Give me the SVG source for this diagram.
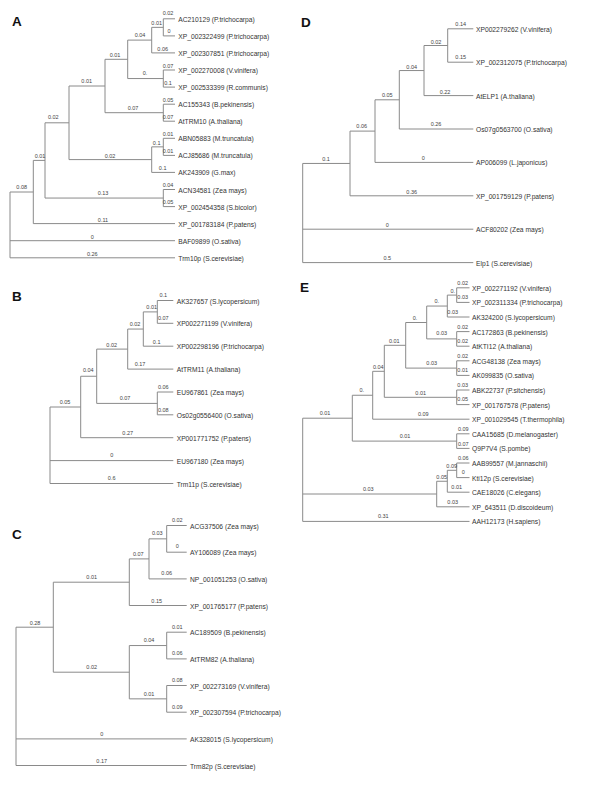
<svg xmlns="http://www.w3.org/2000/svg" width="600" height="788" viewBox="0 0 600 788">
<style>
.edge{fill:none;stroke:#8a8a8a;stroke-width:1}
.leaf{font-family:"Liberation Sans",Arial,sans-serif;font-size:6.7px;fill:#333}
.len{font-family:"Liberation Sans",Arial,sans-serif;font-size:5.5px;fill:#444;text-anchor:middle}
.panel{font-family:"Liberation Sans",Arial,sans-serif;font-size:13.5px;font-weight:bold;fill:#111}
</style>
<rect width="600" height="788" fill="#fff"/>

<!-- Panel A -->
<g id="panelA">
<text class="panel" x="12" y="26">A</text>
<g id="A-connectors">
<path class="edge" d="M163.3 18.8H175M163.3 35.9H175M163.3 18.8V35.9M151.7 27.35H163.3M151.7 52.9H175M151.7 27.35V52.9M163.3 70H175M163.3 87.1H175M163.3 70V87.1M127.7 40.1H151.7M127.7 78.55H163.3M127.7 40.1V78.55M163.3 104.2H175M163.3 121.2H175M163.3 104.2V121.2M105 59.3H127.7M105 112.7H163.3M105 59.3V112.7M163.3 138.3H175M163.3 155.4H175M163.3 138.3V155.4M151.7 146.85H163.3M151.7 172.4H175M151.7 146.85V172.4M69 86H105M69 159.6H151.7M69 86V159.6M163.3 189.5H175M163.3 206.6H175M163.3 189.5V206.6M45 122.8H69M45 198.05H163.3M45 122.8V198.05M33.3 160.4H45M33.3 223.6H175M33.3 160.4V223.6M10 192H33.3M10 240.7H175M10 257.8H175M10 192V257.8"/>
<g class="lengths">
<text class="len" x="168" y="15.3">0.02</text>
<text class="len" x="169" y="32.7">0</text>
<text class="len" x="156.7" y="24.7">0.01</text>
<text class="len" x="162.7" y="50.7">0.06</text>
<text class="len" x="140" y="37">0.04</text>
<text class="len" x="145" y="74.7">0.</text>
<text class="len" x="168" y="67.7">0.07</text>
<text class="len" x="168" y="84.7">0.1</text>
<text class="len" x="115" y="57">0.01</text>
<text class="len" x="133" y="109.7">0.07</text>
<text class="len" x="168" y="102">0.05</text>
<text class="len" x="168" y="119">0.07</text>
<text class="len" x="86.7" y="83">0.01</text>
<text class="len" x="53.3" y="119.3">0.02</text>
<text class="len" x="168" y="135.7">0.01</text>
<text class="len" x="168" y="152.7">0.01</text>
<text class="len" x="156.7" y="144.7">0.1</text>
<text class="len" x="110" y="157.7">0.02</text>
<text class="len" x="162.7" y="170.3">0.1</text>
<text class="len" x="103" y="195.3">0.13</text>
<text class="len" x="168" y="187">0.04</text>
<text class="len" x="168" y="204">0.05</text>
<text class="len" x="40" y="157.7">0.01</text>
<text class="len" x="103" y="222">0.11</text>
<text class="len" x="21.7" y="189.3">0.08</text>
<text class="len" x="92.3" y="238.7">0</text>
<text class="len" x="92.3" y="256">0.26</text>
</g>
</g>
<g id="A-AC210129"><text class="leaf" x="178.3" y="21.8">AC210129 (P.trichocarpa)</text></g>
<g id="A-XP_002322499"><text class="leaf" x="178.3" y="38.9">XP_002322499 (P.trichocarpa)</text></g>
<g id="A-XP_002307851"><text class="leaf" x="178.3" y="55.9">XP_002307851 (P.trichocarpa)</text></g>
<g id="A-XP_002270008"><text class="leaf" x="178.3" y="73">XP_002270008 (V.vinifera)</text></g>
<g id="A-XP_002533399"><text class="leaf" x="178.3" y="90.1">XP_002533399 (R.communis)</text></g>
<g id="A-AC155343"><text class="leaf" x="178.3" y="107.2">AC155343 (B.pekinensis)</text></g>
<g id="A-AtTRM10"><text class="leaf" x="178.3" y="124.2">AtTRM10 (A.thaliana)</text></g>
<g id="A-ABN05883"><text class="leaf" x="178.3" y="141.3">ABN05883 (M.truncatula)</text></g>
<g id="A-ACJ85686"><text class="leaf" x="178.3" y="158.4">ACJ85686 (M.truncatula)</text></g>
<g id="A-AK243909"><text class="leaf" x="178.3" y="175.4">AK243909 (G.max)</text></g>
<g id="A-ACN34581"><text class="leaf" x="178.3" y="192.5">ACN34581 (Zea mays)</text></g>
<g id="A-XP_002454358"><text class="leaf" x="178.3" y="209.6">XP_002454358 (S.bicolor)</text></g>
<g id="A-XP_001783184"><text class="leaf" x="178.3" y="226.6">XP_001783184 (P.patens)</text></g>
<g id="A-BAF09899"><text class="leaf" x="178.3" y="243.7">BAF09899 (O.sativa)</text></g>
<g id="A-Trm10p"><text class="leaf" x="178.3" y="260.8">Trm10p (S.cerevisiae)</text></g>
</g>

<!-- Panel B -->
<g id="panelB">
<text class="panel" x="12" y="301">B</text>
<g id="B-connectors">
<path class="edge" d="M157.3 300.5H173.3M157.3 323.3H173.3M157.3 300.5V323.3M143.3 311.9H157.3M143.3 346.2H173.3M143.3 311.9V346.2M127.7 329.05H143.3M127.7 369.1H173.3M127.7 329.05V369.1M157.3 392H173.3M157.3 414.8H173.3M157.3 392V414.8M96.7 349.1H127.7M96.7 403.4H157.3M96.7 349.1V403.4M80.7 376.25H96.7M80.7 437.7H173.3M80.7 376.25V437.7M50 407H80.7M50 460.6H173.3M50 483.5H173.3M50 407V483.5"/>
<g class="lengths">
<text class="len" x="163.3" y="297">0.1</text>
<text class="len" x="163.3" y="320.3">0.07</text>
<text class="len" x="151.7" y="308.7">0.01</text>
<text class="len" x="156.7" y="343.7">0.1</text>
<text class="len" x="135" y="326.3">0.02</text>
<text class="len" x="140" y="366.3">0.17</text>
<text class="len" x="111.7" y="347">0.02</text>
<text class="len" x="163.3" y="388.7">0.06</text>
<text class="len" x="163.3" y="412">0.08</text>
<text class="len" x="125" y="399.7">0.07</text>
<text class="len" x="88.3" y="372">0.04</text>
<text class="len" x="127.7" y="434.7">0.27</text>
<text class="len" x="65" y="403.7">0.05</text>
<text class="len" x="111.7" y="457">0</text>
<text class="len" x="111.7" y="480.3">0.6</text>
</g>
</g>
<g id="B-AK327657"><text class="leaf" x="176.7" y="303.5">AK327657 (S.lycopersicum)</text></g>
<g id="B-XP002271199"><text class="leaf" x="176.7" y="326.3">XP002271199 (V.vinifera)</text></g>
<g id="B-XP002298196"><text class="leaf" x="176.7" y="349.2">XP002298196 (P.trichocarpa)</text></g>
<g id="B-AtTRM11"><text class="leaf" x="176.7" y="372.1">AtTRM11 (A.thaliana)</text></g>
<g id="B-EU967861"><text class="leaf" x="176.7" y="395">EU967861 (Zea mays)</text></g>
<g id="B-Os02g0556400"><text class="leaf" x="176.7" y="417.8">Os02g0556400 (O.sativa)</text></g>
<g id="B-XP001771752"><text class="leaf" x="176.7" y="440.7">XP001771752 (P.patens)</text></g>
<g id="B-EU967180"><text class="leaf" x="176.7" y="463.6">EU967180 (Zea mays)</text></g>
<g id="B-Trm11p"><text class="leaf" x="176.7" y="486.5">Trm11p (S.cerevisiae)</text></g>
</g>

<!-- Panel C -->
<g id="panelC">
<text class="panel" x="12" y="539">C</text>
<g id="C-connectors">
<path class="edge" d="M166.7 525.5H186.7M166.7 552.2H186.7M166.7 525.5V552.2M149 538.85H166.7M149 578.9H186.7M149 538.85V578.9M129.3 558.9H149M129.3 605.5H186.7M129.3 558.9V605.5M166.7 632.2H186.7M166.7 658.9H186.7M166.7 632.2V658.9M166.7 685.5H186.7M166.7 712.2H186.7M166.7 685.5V712.2M129.3 645.55H166.7M129.3 698.85H166.7M129.3 645.55V698.85M53.3 582.2H129.3M53.3 672.2H129.3M53.3 582.2V672.2M16 627.2H53.3M16 738.9H186.7M16 765.5H186.7M16 627.2V765.5"/>
<g class="lengths">
<text class="len" x="177.3" y="522">0.02</text>
<text class="len" x="177.3" y="548">0</text>
<text class="len" x="157.3" y="535.3">0.03</text>
<text class="len" x="166.7" y="575.3">0.06</text>
<text class="len" x="138.3" y="556">0.07</text>
<text class="len" x="156.7" y="602.7">0.15</text>
<text class="len" x="91.7" y="578.7">0.01</text>
<text class="len" x="177.3" y="629">0.01</text>
<text class="len" x="177.3" y="655">0.06</text>
<text class="len" x="149" y="642">0.04</text>
<text class="len" x="177.3" y="682">0.08</text>
<text class="len" x="177.3" y="708.7">0.09</text>
<text class="len" x="149" y="696.3">0.01</text>
<text class="len" x="91.7" y="669.3">0.02</text>
<text class="len" x="35" y="624.7">0.28</text>
<text class="len" x="101.7" y="736">0</text>
<text class="len" x="101.7" y="763">0.17</text>
</g>
</g>
<g id="C-ACG37506"><text class="leaf" x="190" y="528.5">ACG37506 (Zea mays)</text></g>
<g id="C-AY106089"><text class="leaf" x="190" y="555.2">AY106089 (Zea mays)</text></g>
<g id="C-NP_001051253"><text class="leaf" x="190" y="581.9">NP_001051253 (O.sativa)</text></g>
<g id="C-XP_001765177"><text class="leaf" x="190" y="608.5">XP_001765177 (P.patens)</text></g>
<g id="C-AC189509"><text class="leaf" x="190" y="635.2">AC189509 (B.pekinensis)</text></g>
<g id="C-AtTRM82"><text class="leaf" x="190" y="661.9">AtTRM82 (A.thaliana)</text></g>
<g id="C-XP_002273169"><text class="leaf" x="190" y="688.5">XP_002273169 (V.vinifera)</text></g>
<g id="C-XP_002307594"><text class="leaf" x="190" y="715.2">XP_002307594 (P.trichocarpa)</text></g>
<g id="C-AK328015"><text class="leaf" x="190" y="741.9">AK328015 (S.lycopersicum)</text></g>
<g id="C-Trm82p"><text class="leaf" x="190" y="768.5">Trm82p (S.cerevisiae)</text></g>
</g>

<!-- Panel D -->
<g id="panelD">
<text class="panel" x="301" y="27">D</text>
<g id="D-connectors">
<path class="edge" d="M447.7 28.8H473.3M447.7 62.2H473.3M447.7 28.8V62.2M424 45.5H447.7M424 95.6H473.3M424 45.5V95.6M399.3 70.55H424M399.3 129H473.3M399.3 70.55V129M375 99.8H399.3M375 162.4H473.3M375 99.8V162.4M350 131.1H375M350 195.8H473.3M350 131.1V195.8M302.7 163.45H350M302.7 229.2H473.3M302.7 262.6H473.3M302.7 163.45V262.6"/>
<g class="lengths">
<text class="len" x="460.7" y="26">0.14</text>
<text class="len" x="460.7" y="59.3">0.15</text>
<text class="len" x="436" y="43.7">0.02</text>
<text class="len" x="445" y="93.7">0.22</text>
<text class="len" x="411.7" y="68.7">0.04</text>
<text class="len" x="436" y="126.3">0.26</text>
<text class="len" x="387.3" y="97">0.05</text>
<text class="len" x="423.3" y="160.3">0</text>
<text class="len" x="361.7" y="128">0.06</text>
<text class="len" x="411.7" y="193.7">0.36</text>
<text class="len" x="326" y="161.3">0.1</text>
<text class="len" x="387.3" y="227">0</text>
<text class="len" x="387.3" y="259.7">0.5</text>
</g>
</g>
<g id="D-XP002279262"><text class="leaf" x="476" y="31.8">XP002279262 (V.vinifera)</text></g>
<g id="D-XP_002312075"><text class="leaf" x="476" y="65.2">XP_002312075 (P.trichocarpa)</text></g>
<g id="D-AtELP1"><text class="leaf" x="476" y="98.6">AtELP1 (A.thaliana)</text></g>
<g id="D-Os07g0563700"><text class="leaf" x="476" y="132">Os07g0563700 (O.sativa)</text></g>
<g id="D-AP006099"><text class="leaf" x="476" y="165.4">AP006099 (L.japonicus)</text></g>
<g id="D-XP_001759129"><text class="leaf" x="476" y="198.8">XP_001759129 (P.patens)</text></g>
<g id="D-ACF80202"><text class="leaf" x="476" y="232.2">ACF80202 (Zea mays)</text></g>
<g id="D-Elp1"><text class="leaf" x="476" y="265.6">Elp1 (S.cerevisiae)</text></g>
</g>

<!-- Panel E -->
<g id="panelE">
<text class="panel" x="300" y="292">E</text>
<g id="E-connectors">
<path class="edge" d="M456.7 287.8H469.5M456.7 302.4H469.5M456.7 287.8V302.4M447.3 295.1H456.7M447.3 317H469.5M447.3 295.1V317M456.7 331.6H469.5M456.7 346.2H469.5M456.7 331.6V346.2M426.7 306.05H447.3M426.7 338.9H456.7M426.7 306.05V338.9M456.7 360.8H469.5M456.7 375.4H469.5M456.7 360.8V375.4M405.7 322.5H426.7M405.7 368.1H456.7M405.7 322.5V368.1M456.7 390H469.5M456.7 404.6H469.5M456.7 390V404.6M384.3 345.3H405.7M384.3 397.3H456.7M384.3 345.3V397.3M372.7 371.3H384.3M372.7 419.2H469.5M372.7 371.3V419.2M456.7 433.8H469.5M456.7 448.4H469.5M456.7 433.8V448.4M352.3 395.25H372.7M352.3 441.1H456.7M352.3 395.25V441.1M456.7 463H469.5M456.7 477.6H469.5M456.7 463V477.6M447.3 470.3H456.7M447.3 492.2H469.5M447.3 470.3V492.2M436.7 481.25H447.3M436.7 506.8H469.5M436.7 481.25V506.8M302.7 418.2H352.3M302.7 494H436.7M302.7 521.4H469.5M302.7 418.2V521.4"/>
<g class="lengths">
<text class="len" x="462.7" y="284.7">0.02</text>
<text class="len" x="462.7" y="298.7">0.03</text>
<text class="len" x="452.7" y="292.7">0.</text>
<text class="len" x="452.7" y="313.7">0.03</text>
<text class="len" x="436.7" y="302.7">0.</text>
<text class="len" x="462.7" y="328.7">0.02</text>
<text class="len" x="462.7" y="342.7">0.02</text>
<text class="len" x="441.7" y="335.3">0.03</text>
<text class="len" x="415" y="320.3">0.</text>
<text class="len" x="462.7" y="357.7">0.02</text>
<text class="len" x="462.7" y="372">0.01</text>
<text class="len" x="431.7" y="365.3">0.03</text>
<text class="len" x="394.3" y="342.7">0.01</text>
<text class="len" x="462.7" y="386.7">0.03</text>
<text class="len" x="462.7" y="401">0.05</text>
<text class="len" x="420.7" y="394.7">0.01</text>
<text class="len" x="378.3" y="368.7">0.04</text>
<text class="len" x="423.3" y="416.3">0.09</text>
<text class="len" x="361.7" y="392">0.</text>
<text class="len" x="463.3" y="431">0.09</text>
<text class="len" x="463.3" y="446">0.07</text>
<text class="len" x="405" y="437.7">0.01</text>
<text class="len" x="325" y="415.3">0.01</text>
<text class="len" x="463.3" y="460.3">0.06</text>
<text class="len" x="463.3" y="474.3">0</text>
<text class="len" x="451.7" y="467.7">0.09</text>
<text class="len" x="456.7" y="488.7">0.01</text>
<text class="len" x="441.7" y="479.3">0.05</text>
<text class="len" x="452.7" y="504.3">0.03</text>
<text class="len" x="368.3" y="491">0.03</text>
<text class="len" x="383.3" y="517.7">0.31</text>
</g>
</g>
<g id="E-XP_002271192"><text class="leaf" x="472" y="290.8">XP_002271192 (V.vinifera)</text></g>
<g id="E-XP_002311334"><text class="leaf" x="472" y="305.4">XP_002311334 (P.trichocarpa)</text></g>
<g id="E-AK324200"><text class="leaf" x="472" y="320">AK324200 (S.lycopersicum)</text></g>
<g id="E-AC172863"><text class="leaf" x="472" y="334.6">AC172863 (B.pekinensis)</text></g>
<g id="E-AtKTI12"><text class="leaf" x="472" y="349.2">AtKTI12 (A.thaliana)</text></g>
<g id="E-ACG48138"><text class="leaf" x="472" y="363.8">ACG48138 (Zea mays)</text></g>
<g id="E-AK099835"><text class="leaf" x="472" y="378.4">AK099835 (O.sativa)</text></g>
<g id="E-ABK22737"><text class="leaf" x="472" y="393">ABK22737 (P.sitchensis)</text></g>
<g id="E-XP_001767578"><text class="leaf" x="472" y="407.6">XP_001767578 (P.patens)</text></g>
<g id="E-XP_001029545"><text class="leaf" x="472" y="422.2">XP_001029545 (T.thermophila)</text></g>
<g id="E-CAA15685"><text class="leaf" x="472" y="436.8">CAA15685 (D.melanogaster)</text></g>
<g id="E-Q9P7V4"><text class="leaf" x="472" y="451.4">Q9P7V4 (S.pombe)</text></g>
<g id="E-AAB99557"><text class="leaf" x="472" y="466">AAB99557 (M.jannaschii)</text></g>
<g id="E-Kti12p"><text class="leaf" x="472" y="480.6">Kti12p (S.cerevisiae)</text></g>
<g id="E-CAE18026"><text class="leaf" x="472" y="495.2">CAE18026 (C.elegans)</text></g>
<g id="E-XP_643511"><text class="leaf" x="472" y="509.8">XP_643511 (D.discoideum)</text></g>
<g id="E-AAH12173"><text class="leaf" x="472" y="524.4">AAH12173 (H.sapiens)</text></g>
</g>
</svg>
